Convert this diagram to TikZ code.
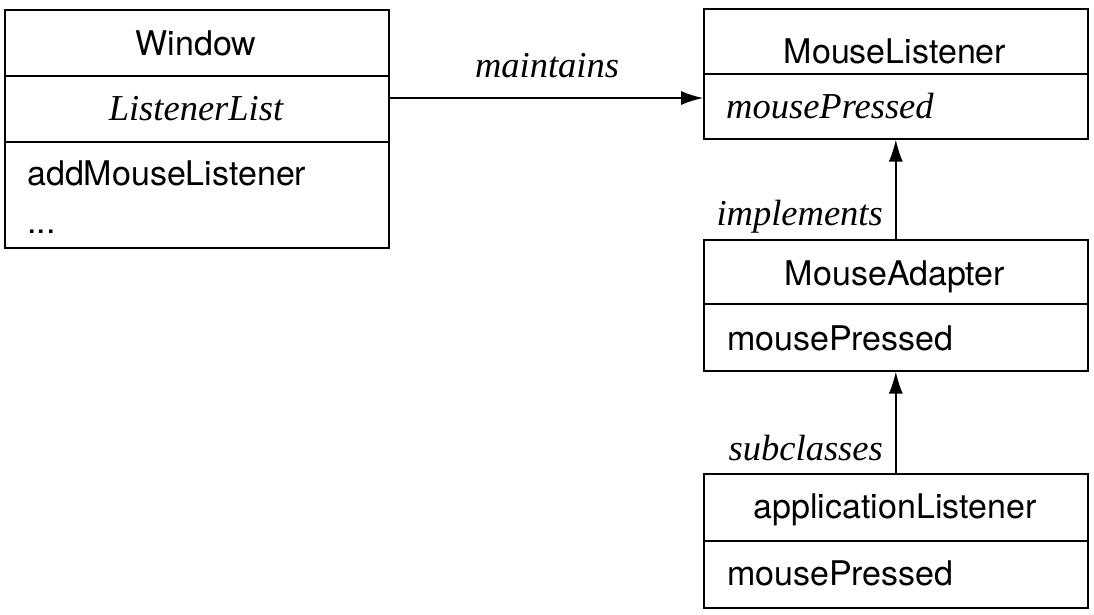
\documentclass[tikz,border=0pt]{standalone}
\usepackage{fontspec}
\setmainfont{Liberation Serif}
\newfontfamily\heros{TeX Gyre Heros}
\usetikzlibrary{arrows.meta}
\tikzset{
  cbox/.style={draw, line width=1.6pt, inner sep=0pt, anchor=north west},
  divline/.style={line width=1.5pt},
  sanslbl/.style={font=\heros\fontsize{34}{40}\selectfont, inner sep=0pt},
  itlbl/.style={font=\itshape\fontsize{36.5}{43}\selectfont, inner sep=0pt},
  arr/.style={line width=1.4pt, -{Latex[length=22pt,width=14pt]}}
}
\begin{document}
\begin{tikzpicture}[x=1pt,y=-1pt]
\useasboundingbox (0,0) rectangle (1094,614);
% Window
\node[cbox, minimum width=384pt, minimum height=238pt] (win) at (4,9) {};
\draw[divline] (4,76) -- (388,76);
\draw[divline] (4,142) -- (388,142);
\node[sanslbl, anchor=base] (wint) at (196,55) {Window};
\node[itlbl, anchor=base] (winl) at (196,120) {ListenerList};
\node[sanslbl, anchor=base west] (wm1) at (27,185) {addMouseListener};
\node[sanslbl, anchor=base west] (wm2) at (27,233) {...};
% MouseListener
\node[cbox, minimum width=384pt, minimum height=130pt] (ml) at (703,8) {};
\draw[divline] (703,74) -- (1087,74);
\node[sanslbl, anchor=base] (mlt) at (895,63) {MouseListener};
\node[itlbl, anchor=base west] (mlm) at (726,118) {mousePressed};
% MouseAdapter
\node[cbox, minimum width=384pt, minimum height=131pt] (ma) at (703,239) {};
\draw[divline] (703,304) -- (1087,304);
\node[sanslbl, anchor=base] (mat) at (895,285) {MouseAdapter};
\node[sanslbl, anchor=base west] (mam) at (727,350) {mousePressed};
% applicationListener
\node[cbox, minimum width=384pt, minimum height=134pt] (al) at (703,473) {};
\draw[divline] (703,541) -- (1087,541);
\node[sanslbl, anchor=base] (alt) at (895,518) {applicationListener};
\node[sanslbl, anchor=base west] (alm) at (727,585) {mousePressed};
% connectors
\coordinate (mrow) at (0,98);
\draw[arr] (win.east |- mrow) -- (ml.west |- mrow);
\node[itlbl, anchor=base] (lmain) at (547,77) {maintains};
\draw[arr] (ma.north) -- (ml.south);
\node[itlbl, anchor=base east] (limpl) at (883,225) {implements};
\draw[arr] (al.north) -- (ma.south);
\node[itlbl, anchor=base east] (lsub) at (883,460) {subclasses};
\end{tikzpicture}
\end{document}
